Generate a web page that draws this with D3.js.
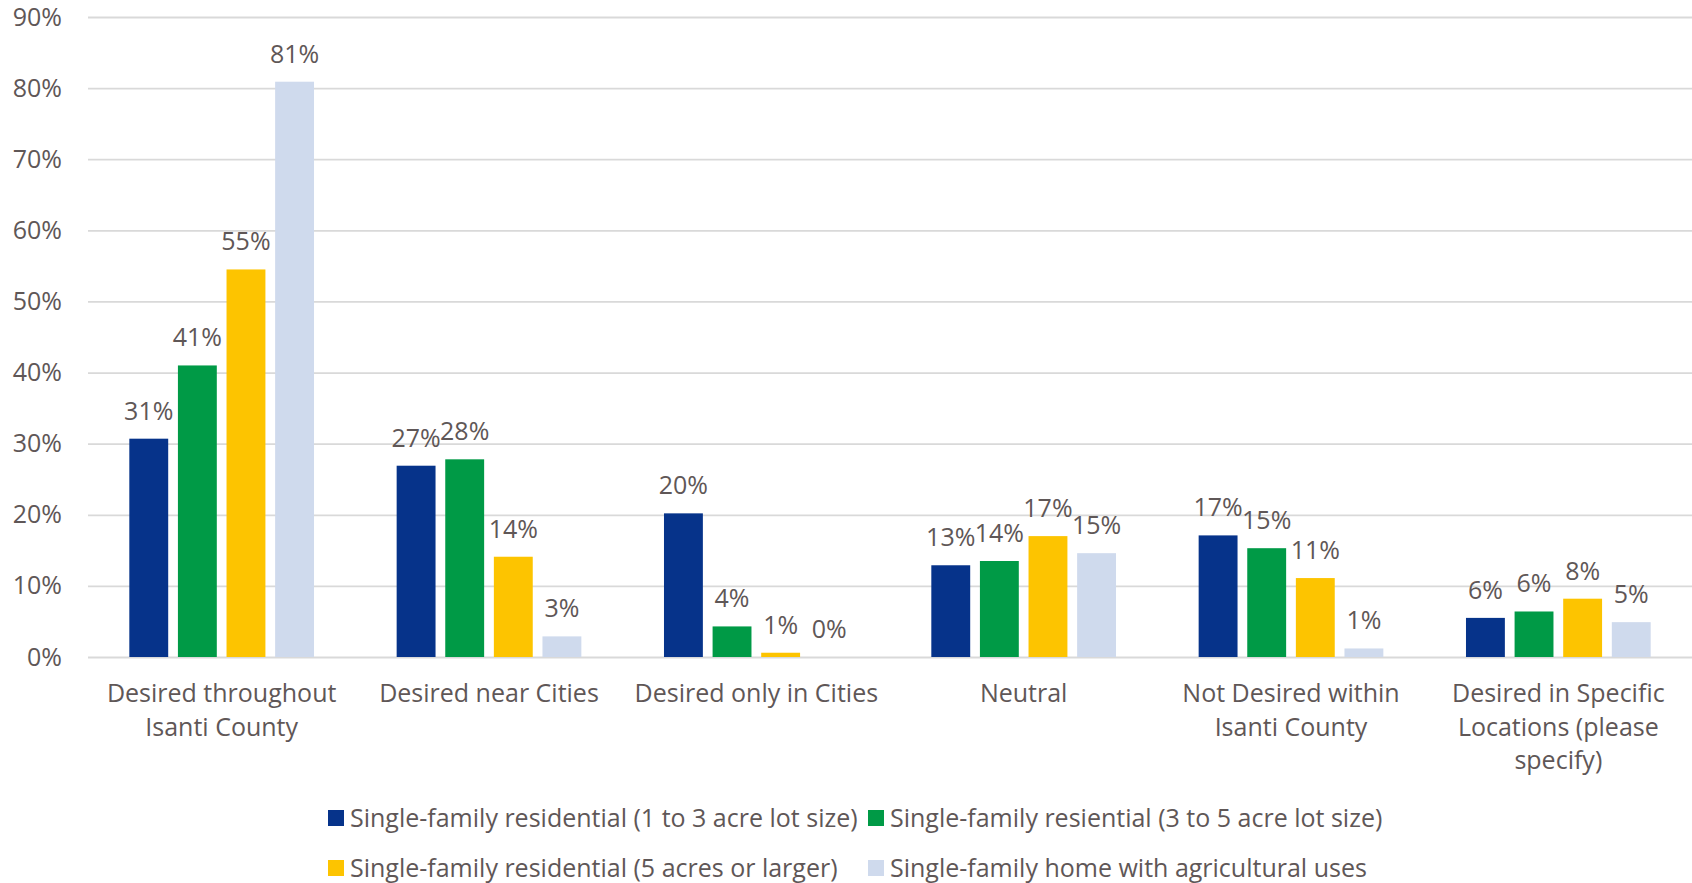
<!DOCTYPE html>
<html>
<head>
<meta charset="utf-8">
<script src="https://cdn.jsdelivr.net/npm/d3@7"></script>
<style>
  body { margin: 0; background: #fff; }
  svg text { font-family: "Open Sans", "Lato", sans-serif; fill: #5f5757; }
</style>
</head>
<body>
<div id="chart"></div>
<script>
// categories (x axis), multi-line labels
let categories = [
	["Desired throughout", "Isanti County"],
	["Desired near Cities"],
	["Desired only in Cities"],
	["Neutral"],
	["Not Desired within", "Isanti County"],
	["Desired in Specific", "Locations (please", "specify)"]
];

let seriesNames = [
	"Single-family residential (1 to 3 acre lot size)",
	"Single-family resiential (3 to 5 acre lot size)",
	"Single-family residential (5 acres or larger)",
	"Single-family home with agricultural uses"
];

let seriesColors = ["#06338a", "#009a46", "#fdc400", "#cfdaed"];

// percent values, one array per series, in category order
let lot1to3   = [30.7, 26.9, 20.2, 12.9, 17.1, 5.5];
let lot3to5   = [41.0, 27.8, 4.3, 13.5, 15.3, 6.4];
let lot5plus  = [54.5, 14.1, 0.6, 17.0, 11.1, 8.2];
let agUses    = [80.9, 2.9, 0.0, 14.6, 1.2, 4.9];

let yTicks = [0, 10, 20, 30, 40, 50, 60, 70, 80, 90];

let series = [lot1to3, lot3to5, lot5plus, agUses];

let width = 1692, height = 883;
let margin = {top: 17, right: 0, bottom: 226, left: 88};
let fontSize = '25px';

let svg = d3.select('#chart').append('svg')
	.attr('width', width)
	.attr('height', height);

// outer scale: one band per category
let x0 = d3.scaleBand()
	.domain(d3.range(categories.length))
	.range([margin.left, width - margin.right])
	.padding(0);

// inner scale: one band per series inside each category
let x1 = d3.scaleBand()
	.domain(d3.range(series.length))
	.range([0, x0.bandwidth()])
	.paddingInner(0.2)
	.paddingOuter(0.85);

let y = d3.scaleLinear()
	.domain([0, 90])
	.range([height - margin.bottom, margin.top]);

// gridlines + y labels
let yAxis = d3.axisLeft(y)
	.tickValues(yTicks)
	.tickSize(-(width - margin.left - margin.right))
	.tickPadding(26)
	.tickFormat(d => d + '%');

let gy = svg.append('g')
	.attr('transform', 'translate(' + margin.left + ',0)')
	.call(yAxis);
gy.select('.domain').remove();
gy.selectAll('.tick line')
	.attr('stroke', '#d9d9d9')
	.attr('stroke-width', 1.8);
gy.selectAll('.tick text')
	.style('font-size', fontSize);

// bars
let groups = svg.append('g')
	.selectAll('g')
	.data(categories)
	.enter().append('g')
	.attr('transform', (d, i) => 'translate(' + x0(i) + ',0)');

let cells = groups.selectAll('.cell')
	.data((d, i) => series.map((s, j) => ({s: j, v: s[i]})))
	.enter().append('g')
	.classed('cell', true);

cells.append('rect')
	.attr('x', d => x1(d.s))
	.attr('width', x1.bandwidth())
	.attr('y', d => y(d.v))
	.attr('height', d => y(0) - y(d.v))
	.attr('fill', d => seriesColors[d.s]);

cells.append('text')
	.attr('x', d => x1(d.s) + x1.bandwidth() / 2)
	.attr('y', d => y(d.v) - 19)
	.attr('text-anchor', 'middle')
	.style('font-size', fontSize)
	.text(d => Math.round(d.v) + '%');

// category labels
let catLabels = svg.append('g')
	.selectAll('text')
	.data(categories)
	.enter().append('text')
	.attr('text-anchor', 'middle')
	.attr('x', (d, i) => x0(i) + x0.bandwidth() / 2)
	.attr('y', 702)
	.style('font-size', fontSize);

catLabels.selectAll('tspan')
	.data(d => d)
	.enter().append('tspan')
	.attr('x', function () { return d3.select(this.parentNode).attr('x'); })
	.attr('dy', (d, i) => i ? 33.5 : 0)
	.text(d => d);

// legend, two rows of two
let legend = svg.append('g')
	.selectAll('g')
	.data(seriesNames)
	.enter().append('g')
	.attr('transform', (d, i) => 'translate(' + (i % 2 ? 868 : 328) + ',' + (i < 2 ? 818 : 868) + ')');

legend.append('rect')
	.attr('x', 0)
	.attr('y', -8)
	.attr('width', 16)
	.attr('height', 16)
	.attr('fill', (d, i) => seriesColors[i]);

legend.append('text')
	.attr('x', 22)
	.attr('dy', '0.35em')
	.style('font-size', fontSize)
	.text(d => d);
</script>
</body>
</html>
